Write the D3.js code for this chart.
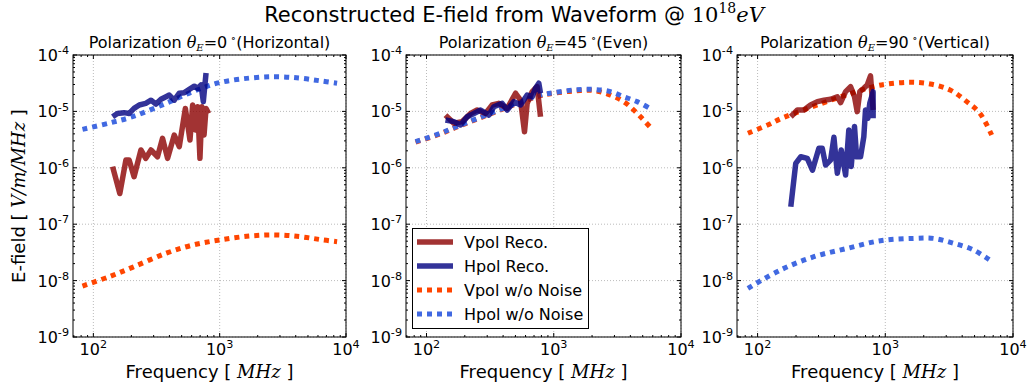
<!DOCTYPE html>
<html>
<head>
<meta charset="utf-8">
<script src="https://cdn.jsdelivr.net/npm/d3@7"></script>
<style>
  body { margin: 0; background: #fff; }
  text { font-family: "DejaVu Sans", sans-serif; fill: #000; }
</style>
</head>
<body>
<svg id="chart" width="1028" height="390"></svg>
<script>

// ---- data (frequency in MHz, E-field in V/m/MHz) ----
// panel 1 : theta_E = 0 (Horizontal)
var vTheory0 = [[82,8.0e-9],[133,1.17e-8],[204,1.72e-8],[376,3.05e-8],[611,4.27e-8],[1000,5.25e-8],[1722,6.17e-8],[2800,6.46e-8],[4290,6.03e-8],[6170,5.37e-8],[8500,4.9e-8]]
var hTheory0 = [[82,4.8e-6],[133,6.2e-6],[204,8.05e-6],[376,1.39e-5],[611,2.24e-5],[1000,3.24e-5],[1722,3.9e-5],[2800,4.12e-5],[4290,3.9e-5],[6170,3.5e-5],[8500,3.16e-5]]
var vReco0 = [[142,1.05e-6],[162,3.5e-7],[181,1.37e-6],[192,1.37e-6],[210,6.95e-7],[238,2.07e-6],[260,1.47e-6],[286,2.07e-6],[322,1.57e-6],[353,3.33e-6],[387,1.47e-6],[437,3.8e-6],[479,2.37e-6],[535,1.13e-5],[582,3.1e-6],[611,1.3e-5],[642,4.7e-6],[670,1.21e-5],[698,1.47e-6],[724,1.21e-5],[752,3.8e-6],[780,1.13e-5],[818,9.2e-6]]
var hReco0 = [[142,8.05e-6],[155,9.2e-6],[175,9.5e-6],[192,9.2e-6],[210,1.13e-5],[231,1.3e-5],[260,1.39e-5],[286,1.58e-5],[313,1.35e-5],[343,1.64e-5],[376,1.82e-5],[399,1.95e-5],[437,1.58e-5],[479,2.1e-5],[525,2.15e-5],[575,2.46e-5],[630,2.8e-5],[670,2.56e-5],[712,2.94e-5],[742,1.49e-5],[780,4.8e-5]]

// panel 2 : theta_E = 45 (Even)
var vTheory1 = [[82,2.85e-6],[129,4.0e-6],[174,5.3e-6],[787,1.9e-5],[1000,2.1e-5],[1435,2.3e-5],[2060,2.35e-5],[2790,1.95e-5],[3545,1.49e-5],[4250,1.06e-5],[4940,7.55e-6],[5670,5.4e-6]]
var hTheory1 = [[82,2.9e-6],[129,4.1e-6],[174,5.4e-6],[787,1.95e-5],[1000,2.15e-5],[1435,2.4e-5],[2060,2.45e-5],[2790,2.24e-5],[3545,1.82e-5],[4520,1.49e-5],[5570,1.16e-5]]
var vReco1 = [[141,8.6e-6],[164,6.15e-6],[191,6.6e-6],[222,9.2e-6],[250,1.06e-5],[291,9.2e-6],[328,1.3e-5],[370,1.39e-5],[431,1.13e-5],[501,2.1e-5],[548,1.58e-5],[589,4.35e-6],[618,1.39e-5],[677,2.24e-5],[740,2.75e-5],[787,8.05e-6]]
var hReco1 = [[141,7.05e-6],[164,6.6e-6],[185,5.74e-6],[209,8.05e-6],[236,9.2e-6],[266,1.06e-5],[309,8.6e-6],[338,1.21e-5],[393,1.39e-5],[431,1.06e-5],[486,1.49e-5],[548,1.3e-5],[618,1.95e-5],[677,1.82e-5],[718,2.57e-5],[763,3.16e-5],[787,2.1e-5]]

// panel 3 : theta_E = 90 (Vertical)
var vTheory2 = [[84,4.1e-6],[120,5.74e-6],[161,7.85e-6],[766,2.67e-5],[1033,3.06e-5],[1570,3.28e-5],[2250,3.06e-5],[3215,2.4e-5],[4345,1.49e-5],[5520,9.2e-6],[6810,3.8e-6]]
var hTheory2 = [[84,7.3e-9],[152,1.55e-8],[276,2.65e-8],[503,3.73e-8],[916,5.1e-8],[1667,5.6e-8],[2390,5.6e-8],[3420,4.6e-8],[4900,3.5e-8],[6610,2.3e-8]]
var vReco2 = [[182,8.05e-6],[205,1.06e-5],[231,1.06e-5],[260,1.3e-5],[294,1.49e-5],[331,1.58e-5],[373,1.64e-5],[421,1.82e-5],[447,1.43e-5],[489,2.24e-5],[535,2.74e-5],[574,1.82e-5],[603,9.9e-6],[632,2.24e-5],[679,2.57e-5],[722,2.94e-5],[766,4.25e-5],[803,1.06e-5]]
var hReco2 = [[182,2.04e-7],[199,1.2e-6],[218,1.57e-6],[245,1.47e-6],[269,9.1e-7],[302,2.22e-6],[321,2.22e-6],[341,1.12e-6],[373,1.37e-6],[396,3.47e-6],[421,8.0e-7],[452,2.07e-6],[489,7.45e-7],[518,4.7e-6],[541,1.05e-6],[574,5.4e-6],[596,1.57e-6],[640,1.57e-6],[679,3.55e-6],[700,1.06e-5],[730,7.55e-6],[756,1.39e-5],[803,2.24e-5],[803,7.55e-6]]

var panelTitles = [['0', '(Horizontal)'], ['45', '(Even)'], ['90', '(Vertical)']]
var legendLabels = ['Vpol Reco.', 'Hpol Reco.', 'Vpol w/o Noise', 'Hpol w/o Noise']
var xMajor = [1e2, 1e3, 1e4]
var yMajor = [1e-9, 1e-8, 1e-7, 1e-6, 1e-5, 1e-4]

var series = [
  {v: vTheory0, h: hTheory0, vr: vReco0, hr: hReco0},
  {v: vTheory1, h: hTheory1, vr: vReco1, hr: hReco1},
  {v: vTheory2, h: hTheory2, vr: vReco2, hr: hReco2}
]

// ---- layout ----
svg = d3.select('#chart')
top_ = 55
bottom = 337
panels = [{left: 73, right: 346}, {left: 406, right: 681}, {left: 737, right: 1013}]

styles = {
  vr: {color: 'darkred', width: 5.5, dash: null, op: 0.8},
  hr: {color: 'navy', width: 5.5, dash: null, op: 0.8},
  v: {color: 'orangered', width: 5, dash: '5,5', op: 1},
  h: {color: 'royalblue', width: 5, dash: '5,5', op: 1}
}

// minor tick values from the decades
function minors(lo, hi) {
  var out = []
  for (var e = lo; e < hi; e++) {
    for (var m = 2; m < 10; m++) out.push(m * Math.pow(10, e))
  }
  return out
}

function powLabel(sel, base, exp, size) {
  sel.append('tspan').text(base)
  sel.append('tspan').text(exp).attr('dy', -size * 0.42).style('font-size', (size * 0.7) + 'px')
}

// main title
var tt = svg.append('text').attr('x', 514).attr('y', 22).attr('text-anchor', 'middle').style('font-size', '21px')
tt.append('tspan').text('Reconstructed E-field from Waveform @ ')
tt.append('tspan').text('10').style('font-family', 'DejaVu Serif')
tt.append('tspan').text('18').attr('dy', -9).style('font-size', '14px').style('font-family', 'DejaVu Serif')
tt.append('tspan').text('eV').attr('dy', 9).style('font-family', 'DejaVu Serif').style('font-style', 'italic')

panels.forEach(function(p, i) {
  var x = d3.scaleLog().domain([69, 1e4]).range([p.left, p.right])
  var y = d3.scaleLog().domain([1e-9, 1e-4]).range([bottom, top_])
  var g = svg.append('g')

  // grid
  xMajor.forEach(function(t) {
    g.append('line').attr('x1', x(t)).attr('x2', x(t)).attr('y1', top_).attr('y2', bottom)
      .attr('stroke', '#aaa').attr('stroke-width', 0.8).attr('stroke-dasharray', '1,2')
  })
  yMajor.forEach(function(t) {
    g.append('line').attr('x1', p.left).attr('x2', p.right).attr('y1', y(t)).attr('y2', y(t))
      .attr('stroke', '#aaa').attr('stroke-width', 0.8).attr('stroke-dasharray', '1,2')
  })

  // curves: theory first, reconstruction on top
  ;['v', 'h', 'vr', 'hr'].forEach(function(k) {
    var s = styles[k]
    var line = d3.line().x(function(d) { return x(d[0]) }).y(function(d) { return y(d[1]) })
    if (k == 'v' || k == 'h') line.curve(d3.curveCatmullRom)
    else line.curve(d3.curveLinear)
    g.append('path').datum(series[i][k])
      .attr('d', line)
      .attr('fill', 'none')
      .attr('stroke', s.color)
      .attr('stroke-width', s.width)
      .attr('stroke-opacity', s.op)
      .attr('stroke-linejoin', 'round')
      .attr('stroke-dasharray', s.dash)
  })

  // frame
  g.append('rect').attr('x', p.left).attr('y', top_).attr('width', p.right - p.left).attr('height', bottom - top_)
    .attr('fill', 'none').attr('stroke', '#000').attr('stroke-width', 1)

  // inward ticks on all sides
  xMajor.concat(minors(1, 4).filter(function(t) { return t > 69 && t < 1e4 })).forEach(function(t) {
    var len = xMajor.indexOf(t) >= 0 ? 4 : 2
    g.append('line').attr('x1', x(t)).attr('x2', x(t)).attr('y1', bottom).attr('y2', bottom - len).attr('stroke', '#000')
    g.append('line').attr('x1', x(t)).attr('x2', x(t)).attr('y1', top_).attr('y2', top_ + len).attr('stroke', '#000')
  })
  yMajor.concat(minors(-9, -4)).forEach(function(t) {
    var len = yMajor.indexOf(t) >= 0 ? 4 : 2
    g.append('line').attr('y1', y(t)).attr('y2', y(t)).attr('x1', p.left).attr('x2', p.left + len).attr('stroke', '#000')
    g.append('line').attr('y1', y(t)).attr('y2', y(t)).attr('x1', p.right).attr('x2', p.right - len).attr('stroke', '#000')
  })

  // tick labels
  xMajor.forEach(function(t) {
    var lab = g.append('text').attr('x', x(t)).attr('y', 355).attr('text-anchor', 'middle').style('font-size', '16px')
    powLabel(lab, '10', String(Math.round(Math.log10(t))), 16)
  })
  yMajor.forEach(function(t) {
    var lab = g.append('text').attr('x', p.left - 4).attr('y', y(t) + 6).attr('text-anchor', 'end').style('font-size', '16px')
    powLabel(lab, '10', '-' + String(-Math.round(Math.log10(t))), 16)
  })

  // panel title
  var cx = (p.left + p.right) / 2
  var pt = g.append('text').attr('x', cx).attr('y', 48).attr('text-anchor', 'middle').style('font-size', '16px')
  pt.append('tspan').text('Polarization ')
  pt.append('tspan').text('θ').style('font-family', 'DejaVu Serif').style('font-style', 'italic')
  pt.append('tspan').text('E').attr('dy', 3).style('font-size', '10px').style('font-family', 'DejaVu Serif').style('font-style', 'italic')
  pt.append('tspan').text('=' + panelTitles[i][0]).attr('dy', -3)
  pt.append('tspan').text(' ∘').attr('dy', -6).style('font-size', '11px').style('font-family', 'DejaVu Serif')
  pt.append('tspan').text(panelTitles[i][1]).attr('dy', 6)

  // x label
  var xl = g.append('text').attr('x', cx).attr('y', 378).attr('text-anchor', 'middle').style('font-size', '18px')
  xl.append('tspan').text('Frequency [ ')
  xl.append('tspan').text('MHz').style('font-family', 'DejaVu Serif').style('font-style', 'italic')
  xl.append('tspan').text(' ]')

  if (i == 0) {
    var yl = g.append('text').attr('transform', 'translate(25,' + ((top_ + bottom) / 2) + ') rotate(-90)')
      .attr('text-anchor', 'middle').style('font-size', '18px')
    yl.append('tspan').text('E-field [ ')
    yl.append('tspan').text('V/m/MHz').style('font-family', 'DejaVu Serif').style('font-style', 'italic')
    yl.append('tspan').text(' ]')
  }

  if (i == 1) {
    var lg = g.append('g')
    lg.append('rect').attr('x', 412.5).attr('y', 228.5).attr('width', 176).attr('height', 100)
      .attr('fill', '#fff').attr('stroke', '#000').attr('stroke-width', 1)
    ;['vr', 'hr', 'v', 'h'].forEach(function(k, j) {
      var s = styles[k]
      var ry = 242 + j * 24
      lg.append('line').attr('x1', 417).attr('x2', 453).attr('y1', ry).attr('y2', ry)
        .attr('stroke', s.color).attr('stroke-width', s.width).attr('stroke-opacity', s.op)
        .attr('stroke-dasharray', s.dash)
      lg.append('text').attr('x', 464).attr('y', ry + 6).style('font-size', '16px').text(legendLabels[j])
    })
  }
})

</script>
</body>
</html>
